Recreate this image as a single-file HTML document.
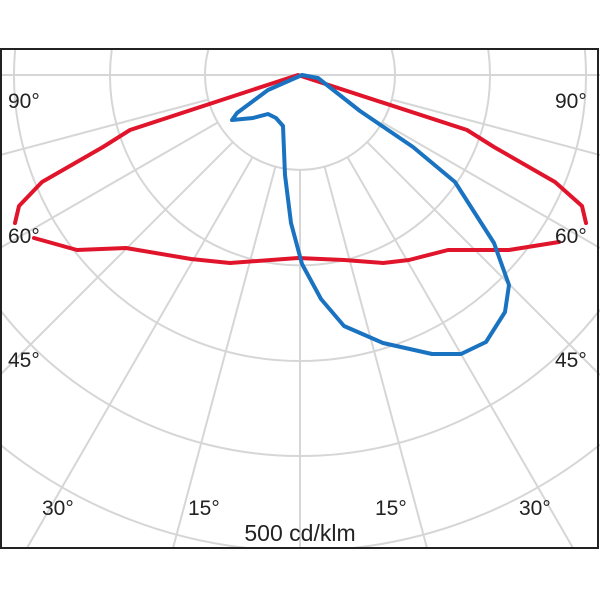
<!DOCTYPE html>
<html><head><style>
html,body{margin:0;padding:0;background:#fff;width:600px;height:600px;overflow:hidden;}
svg{display:block;overflow:hidden;}
text{font-family:"Liberation Sans",sans-serif;font-size:21px;fill:#222;}
</style></head><body>
<svg width="600" height="600" viewBox="0 0 600 600">
<g stroke="#d6d6d6" stroke-width="2" fill="none">
<path d="M208.3,50 A95 95 0 1 0 391.7,50"/>
<path d="M111.7,50 A190 190 0 1 0 488.3,50"/>
<path d="M15.1,50 A286 286 0 1 0 584.9,50"/>
<path d="M0,309.9 A381 381 0 0 0 600,309.9"/>
<path d="M0,444.6 A476 476 0 0 0 246.6,548"/>
<path d="M353.4,548 A476 476 0 0 0 600,444.6"/>
<line x1="0" y1="75" x2="600" y2="75"/>
<line x1="300" y1="170" x2="300" y2="548"/>
<line x1="275.4" y1="166.8" x2="173" y2="548"/>
<line x1="324.6" y1="166.8" x2="427" y2="548"/>
<line x1="252.5" y1="157.3" x2="27" y2="548"/>
<line x1="347.5" y1="157.3" x2="573" y2="548"/>
<line x1="232.8" y1="142.2" x2="0" y2="375"/>
<line x1="367.2" y1="142.2" x2="600" y2="375"/>
<line x1="217.7" y1="122.5" x2="0" y2="248"/>
<line x1="382.3" y1="122.5" x2="600" y2="248"/>
<line x1="208.2" y1="99.6" x2="0" y2="155"/>
<line x1="391.8" y1="99.6" x2="600" y2="155"/>
</g>
<rect x="1" y="49" width="597" height="499" fill="none" stroke="#222" stroke-width="2"/>
<g fill="none" stroke-width="4" stroke-linejoin="round" stroke-linecap="round">
<polyline stroke="#e0152b" points="15,223 19,206 42,182 103,147 130,130 298,75 467,130 494,147 555,182 582,206 586,223"/>
<polyline stroke="#e0152b" points="34,238 77,250 126,248 191,259 230,263 298,258 344,260 383,263 409,260 448,250 509,250 559,242"/>
<polygon stroke="#1a73c0" points="232,120 237,113 268,90 302,75 318,78 360,111 413,147 455,182 494,243 509,285 505,312 486,342 461,354 432,354 383,343 344,326 321,299 302,264 291,223 285,175 283,126 276,118 268,114 253,118"/>
</g>
<text x="8" y="108">90°</text>
<text x="555" y="108">90°</text>
<text x="8" y="243">60°</text>
<text x="555" y="243">60°</text>
<text x="8" y="367">45°</text>
<text x="555" y="367">45°</text>
<text x="42" y="515">30°</text>
<text x="188" y="515">15°</text>
<text x="375" y="515">15°</text>
<text x="519" y="515">30°</text>
<text x="300" y="541" text-anchor="middle" style="font-size:23px">500 cd/klm</text>
</svg>
</body></html>
